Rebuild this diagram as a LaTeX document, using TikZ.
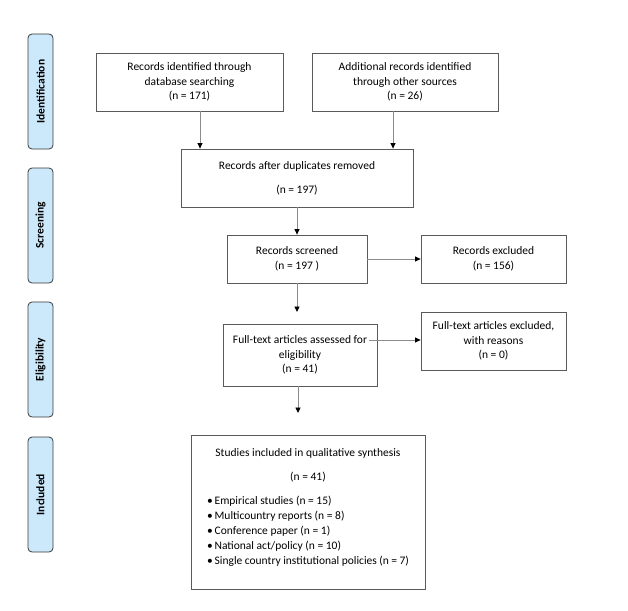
\documentclass[tikz,border=0pt]{standalone}
\usepackage{fontspec}
\setmainfont{Carlito}
\usetikzlibrary{arrows.meta}
\definecolor{sidefill}{HTML}{CCE8FB}
\definecolor{sideline}{HTML}{3A3A3A}
\definecolor{boxline}{HTML}{5A5A5A}
\definecolor{arrline}{HTML}{8C8C8C}
\tikzset{
  sidelabel/.style={draw=sideline, line width=0.8pt, fill=sidefill, rounded corners=4pt,
    minimum width=25pt, minimum height=115pt, inner sep=0pt},
  sidetext/.style={rotate=90, font=\fontsize{11.5}{13}\selectfont\bfseries},
  flowbox/.style={draw=boxline, line width=0.8pt, inner sep=0pt, align=center,
    font=\fontsize{11.5}{14.5}\selectfont},
  arr/.style={draw=arrline, line width=0.9pt, -{Triangle[length=5.5pt,width=5pt,color=black]}}
}
\begin{document}
\begin{tikzpicture}[x=1pt,y=-1pt]
\useasboundingbox (0,0) rectangle (628,610);
% side labels
\node[sidelabel] (sid) at (40.5,91.5) {}; \node[sidetext] (tid) at (sid) {Identification};
\node[sidelabel] (ssc) at (40.5,225.5) {}; \node[sidetext] (tsc) at (ssc) {Screening};
\node[sidelabel] (sel) at (40.5,359.5) {}; \node[sidetext] (tel) at (sel) {Eligibility};
\node[sidelabel] (sin) at (40.5,494.5) {}; \node[sidetext] (tin) at (sin) {Included};
% boxes
\node[flowbox, minimum width=187pt, minimum height=58pt] (b1) at (189.5,82)
  {Records identified through\\database searching\\(n = 171)};
\node[flowbox, minimum width=186pt, minimum height=58pt] (b2) at (405,82)
  {Additional records identified\\through other sources\\(n = 26)};
\node[flowbox, minimum width=232pt, minimum height=58pt] (b3) at (297,178)
  {Records after duplicates removed\\[9.5pt](n = 197)};
\node[flowbox, minimum width=140pt, minimum height=48pt] (b4) at (297,259)
  {Records screened\\(n = 197 )};
\node[flowbox, minimum width=145pt, minimum height=48pt] (b5) at (493.5,259)
  {Records excluded\\(n = 156)};
\node[flowbox, minimum width=154pt, minimum height=62pt] (b6) at (300,355)
  {Full-text articles assessed for\\eligibility\\(n = 41)};
\node[flowbox, minimum width=145pt, minimum height=58pt] (b7) at (493.5,341)
  {Full-text articles excluded,\\with reasons\\(n = 0)};
\node[flowbox, minimum width=234pt, minimum height=154pt] (b8) at (308,512)
  {\begin{minipage}[c][154pt][t]{202pt}\fontsize{11.5}{15}\selectfont
   \vspace*{14pt}\centering Studies included in qualitative synthesis\par
   \vspace{9pt}(n = 41)\par\vspace{9pt}\raggedright
   \textbullet\,Empirical studies (n = 15)\par
   \textbullet\,Multicountry reports (n = 8)\par
   \textbullet\,Conference paper (n = 1)\par
   \textbullet\,National act/policy (n = 10)\par
   \textbullet\,Single country institutional policies (n = 7)\par
   \end{minipage}};
% helper coordinates
\coordinate (c1) at (200,0);
\coordinate (c2) at (393,0);
\coordinate (e1) at (297,312);
\coordinate (s2) at (369,340);
\coordinate (e2) at (298,413);
% connectors
\draw[arr] (b1.south -| c1) -- (b3.north -| c1);
\draw[arr] (b2.south -| c2) -- (b3.north -| c2);
\draw[arr] (b3) -- (b4);
\draw[arr] (b4) -- (b5);
\draw[arr] (b4.south) -- (e1);
\draw[arr] (s2) -- (s2 -| b7.west);
\draw[arr] (b6.south -| e2) -- (e2);
\end{tikzpicture}
\end{document}
